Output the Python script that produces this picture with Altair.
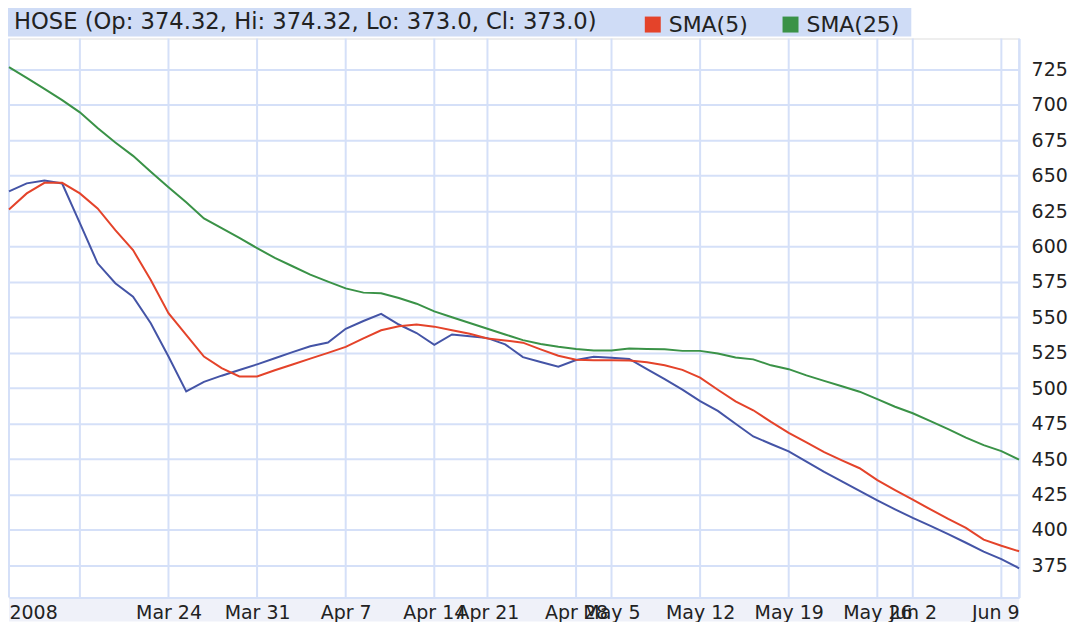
import altair as alt
import pandas as pd

# ---- data (trading-day index 0..57) ----
price = [639.0, 644.6, 646.6, 644.5, 616.6, 588.2, 574.1, 564.7, 545.9, 522.4,
         497.8, 504.5, 508.9, 512.9, 516.9, 521.2, 525.5, 529.7, 532.3, 542.0,
         547.5, 552.5, 545.0, 539.0, 530.6, 538.0, 536.7, 535.4, 531.0, 522.0,
         518.5, 515.2, 520.0, 522.2, 521.5, 520.7, 513.5, 506.5, 499.0, 491.0,
         484.0, 475.0, 466.0, 460.7, 455.5, 448.3, 441.0, 434.3, 427.6, 420.9,
         414.6, 408.5, 402.9, 397.1, 391.0, 384.7, 379.5, 373.0]
sma5 = [626.2, 637.5, 645.0, 645.0, 637.5, 626.9, 611.6, 597.5, 576.4, 553.0,
        537.7, 522.4, 514.2, 508.3, 508.3, 512.7, 516.8, 520.9, 525.0, 529.2,
        535.2, 540.9, 543.8, 545.0, 543.5, 541.0, 538.5, 535.2, 533.7, 532.2,
        527.5, 523.0, 520.2, 519.8, 519.7, 519.6, 518.3, 516.3, 513.0, 507.5,
        499.0, 490.8, 484.5, 476.3, 468.5, 461.8, 455.0, 449.2, 443.6, 435.2,
        428.2, 421.4, 414.5, 407.8, 401.5, 393.2, 388.9, 385.0]
sma25 = [726.6, 719.0, 711.3, 703.3, 694.7, 683.6, 673.4, 664.0, 652.8, 641.9,
         631.3, 619.9, 613.0, 606.1, 598.9, 592.0, 586.1, 580.2, 575.3, 570.5,
         567.5, 567.1, 563.7, 559.7, 554.3, 550.1, 546.1, 542.0, 538.0, 534.0,
         531.3, 529.3, 527.7, 526.6, 526.6, 528.0, 527.8, 527.6, 526.4, 526.4,
         524.5, 521.7, 520.4, 516.2, 513.5, 509.1, 505.2, 501.4, 497.6, 492.4,
         487.0, 482.4, 476.8, 471.2, 465.2, 459.9, 455.7, 449.7]

tick_pos = [0, 4, 9, 14, 19, 24, 27, 32, 34, 39, 44, 49, 51, 56, 57]
tick_lab = ["2008", "", "Mar 24", "Mar 31", "Apr 7", "Apr 14", "Apr 21",
            "Apr 28", "May 5", "May 12", "May 19", "May 26", "Jun 2", "", "Jun 9"]
y_ticks = [375, 400, 425, 450, 475, 500, 525, 550, 575, 600, 625, 650, 675, 700, 725]

symbol = ["HOSE"]
ohlc_names = ["Op", "Hi", "Lo", "Cl"]
ohlc_vals = ["374.32", "374.32", "373.0", "373.0"]
sma_names = ["SMA(5)", "SMA(25)"]

# ---- styling ----
FONT = "DejaVu Sans"
GRID = "#d5e0f8"
BLUE = "#4454a6"
RED = "#e4432a"
GREEN = "#3a9247"
W, H = 1012, 560

t = list(range(len(price)))
df_price = pd.DataFrame({"t": t, "v": price})
df_sma = pd.DataFrame({
    "t": t + t,
    "v": sma5 + sma25,
    "series": [sma_names[0]] * len(t) + [sma_names[1]] * len(t),
})
df_ticks = pd.DataFrame({"t": tick_pos})
header = symbol[0] + " (" + ", ".join(f"{n}: {v}" for n, v in zip(ohlc_names, ohlc_vals)) + ")"
df_header = pd.DataFrame({"label": [header]})

expr = "''"
for p, l in reversed(list(zip(tick_pos, tick_lab))):
    expr = f"datum.value == {p} ? '{l}' : ({expr})"

xscale = alt.Scale(domain=[0, 57], nice=False, zero=False)
yscale = alt.Scale(domain=[352.4, 746.8], nice=False, zero=False)

xaxis = alt.Axis(values=tick_pos, labelExpr=expr, labelFlush=True, labelOverlap=False,
                 labelBound=False, grid=False, ticks=False, tickSize=0, domain=True,
                 domainColor=GRID, domainWidth=2, labelPadding=6, labelFontSize=19,
                 labelFont=FONT, labelColor="#222222", title=None, zindex=1)
yaxis = alt.Axis(values=y_ticks, orient="right", grid=True, gridColor=GRID, gridWidth=2,
                 ticks=False, tickSize=0, domain=True, domainColor=GRID, domainWidth=2,
                 labelPadding=12, labelFontSize=19, labelFont=FONT, labelColor="#222222",
                 title=None, format="d", zindex=0)

X = alt.X("t:Q", scale=xscale, axis=xaxis, title=None)
Y = alt.Y("v:Q", scale=yscale, axis=yaxis, title=None)

one = alt.Data(values=[{"a": 1}])

top_band = alt.Chart(one).mark_rect(color="#cfdcf6").encode(
    x=alt.value(-1), x2=alt.value(904), y=alt.value(-31), y2=alt.value(-2))
bottom_band = alt.Chart(one).mark_rect(color="#eff1f9").encode(
    x=alt.value(0), x2=alt.value(W), y=alt.value(H), y2=alt.value(H + 24))

vgrid = alt.Chart(df_ticks).mark_rule(color=GRID, strokeWidth=2).encode(
    x=X, y=alt.value(0), y2=alt.value(H))

price_line = alt.Chart(df_price).mark_line(color=BLUE, strokeWidth=2).encode(x=X, y=Y)

sma_lines = alt.Chart(df_sma).mark_line(strokeWidth=2).encode(
    x=X, y=Y,
    color=alt.Color("series:N",
                    scale=alt.Scale(domain=sma_names, range=[RED, GREEN]),
                    legend=alt.Legend(orient="none", legendX=634, legendY=-25,
                                      direction="horizontal", title=None,
                                      symbolType="square", symbolSize=64,
                                      symbolStrokeWidth=8, labelFontSize=22,
                                      labelFont=FONT, labelColor="#222222",
                                      columnPadding=22, labelOffset=5, padding=0)),
)

head = alt.Chart(df_header).mark_text(align="left", baseline="middle", fontSize=22.7,
                                       font=FONT, color="#222222").encode(
    x=alt.value(5), y=alt.value(-17), text="label:N")

chart = alt.layer(top_band, bottom_band, vgrid, price_line, sma_lines, head).properties(
    width=W, height=H,
    autosize=alt.AutoSizeParams(type="none"),
    padding={"left": 1, "top": 30, "right": 49, "bottom": 24},
).configure_view(stroke=None).configure(background="white")

chart.save("out.html", embed_options={"renderer": "svg", "actions": False})
